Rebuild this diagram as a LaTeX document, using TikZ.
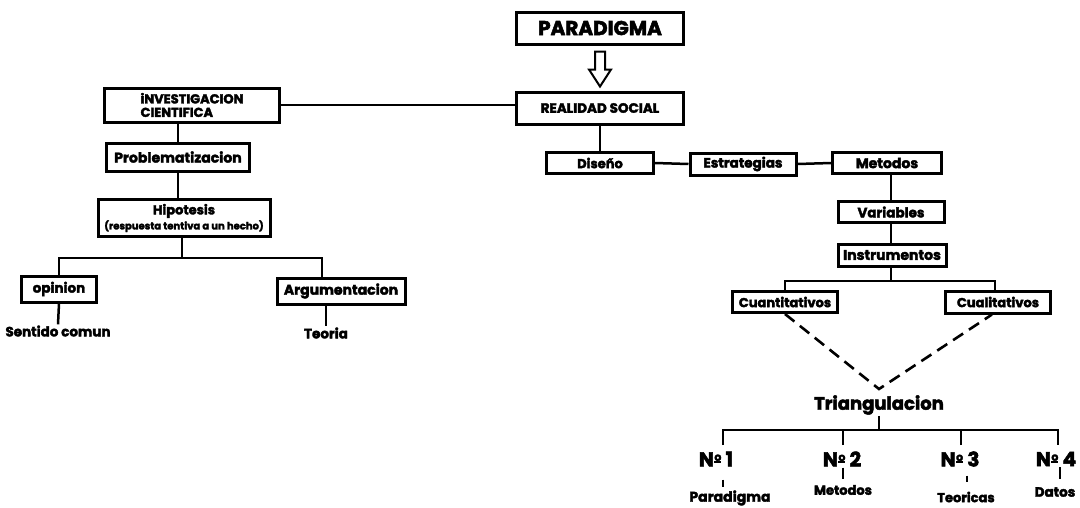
\documentclass[tikz,border=0pt]{standalone}
\usepackage{fontspec}
\setmainfont{Poppins}[BoldFeatures={FakeBold=2.6}]
\usetikzlibrary{calc}
\newcommand{\myfs}[1]{\fontsize{#1}{#1}\selectfont}
\newcommand{\numo}{\kern0.5pt\makebox[7pt][c]{\raisebox{5.5pt}{\myfs{11}o}}\kern-7pt\rule[3.2pt]{7pt}{1.8pt}}
\begin{document}
\begin{tikzpicture}[x=1pt,y=-1pt,
  box/.style={draw, line width=3pt, fill=white, inner sep=0pt, font=\bfseries\myfs{13.5}},
  conn/.style={line width=2.5pt},
  tick/.style={line width=2.2pt},
  lbl/.style={inner sep=1pt, font=\bfseries\myfs{13.5}},
  num/.style={inner sep=0pt, font=\bfseries\myfs{20}},
  dashline/.style={line width=2.6pt, dash pattern=on 12pt off 7pt}]
\useasboundingbox[fill=white] (0,0) rectangle (1080,507);

% top
\node[box, minimum width=167pt, minimum height=32pt, font=\bfseries\myfs{20}] (par) at (600,28) {PARADIGMA};
\node[box, minimum width=167pt, minimum height=32pt, font=\bfseries\myfs{13.5}] (rs) at (600,108) {REALIDAD SOCIAL};
\draw[line width=2pt, fill=white] ($(par.south)+(-5,6)$) -- ++(0,18) -- ++(-6,0) -- ($(rs.north)+(0,-4)$)
  -- ($(par.south)+(11,24)$) -- ++(-6,0) -- ++(0,-18) -- cycle;

% left branch
\node[box, minimum width=175pt, minimum height=34pt, align=left, font=\bfseries\myfs{13}] (inv) at (192,105)
  {iNVESTIGACION\\[0.5pt]CIENTIFICA};
\node[box, minimum width=143pt, minimum height=28pt, font=\bfseries\myfs{14}] (prob) at (178,157) {Problematizacion};
\node[box, minimum width=172pt, minimum height=37pt, align=center, font=\bfseries\myfs{13}] (hip) at (184,218)
  {Hipotesis\\[2pt]{\myfs{10}(respuesta tentiva a un hecho)}};
\node[box, minimum width=75pt, minimum height=26pt] (opi) at (59,289) {opinion};
\node[box, minimum width=128pt, minimum height=26pt, font=\bfseries\myfs{14}] (arg) at (341,291) {Argumentacion};
\node[lbl] (sc) at (58,331) {Sentido comun};
\node[lbl] (teo) at (326,333) {Teoria};

\draw[conn] (inv.east) -- (inv.east -| rs.west);
\draw[conn] (inv.south -| prob.north) -- (prob.north);
\draw[conn] (prob.south) -- (prob.south |- hip.north);
\coordinate (hj) at (182,258);
\draw[conn] (hip.south -| hj) -- (hj);
\draw[conn] (opi.north) |- (hj) -| (arg.north -| 322,0) -- (322,278);
\draw[conn] (opi.south) -- (sc.north);
\draw[conn] (arg.south -| teo.north) -- (teo.north);

% right branch
\node[box, minimum width=107pt, minimum height=21pt, font=\bfseries\myfs{13}] (dis) at (600,163) {Diseño};
\node[box, minimum width=106pt, minimum height=22pt] (est) at (743,164) {Estrategias};
\node[box, minimum width=109pt, minimum height=21pt, font=\bfseries\myfs{14}] (met) at (887,163) {Metodos};
\node[box, minimum width=106pt, minimum height=21pt] (var) at (891,212) {Variables};
\node[box, minimum width=108pt, minimum height=22pt, font=\bfseries\myfs{14}] (ins) at (892,255) {Instrumentos};
\node[box, minimum width=105pt, minimum height=21pt, font=\bfseries\myfs{13}] (cuan) at (785,302) {Cuantitativos};
\node[box, minimum width=105pt, minimum height=22pt, font=\bfseries\myfs{13}] (cual) at (998,302) {Cualitativos};

\draw[conn] (rs.south) -- (dis.north);
\draw[conn] (dis.east) -- (est.west);
\draw[conn] (est.east) -- (met.west);
\draw[conn] (var.north |- met.south) -- (var.north);
\draw[conn] (var.south) -- (var.south |- ins.north);
\coordinate (ih) at (891,281);
\draw[conn] (ins.south -| ih) -- (ih);
\draw[conn] (cuan.north) |- (ih) -| ([xshift=-3pt]cual.north);

% triangulacion
\node[inner sep=1pt, font=\bfseries\myfs{18}] (tri) at (879,405) {Triangulacion};
\coordinate (tv) at (879,389);
\draw[dashline] (cuan.south) -- (tv) -- ([xshift=-6pt]cual.south);

\node[num] (n1) at (716,459) {N\numo\ 1};
\node[num] (n2) at (842,459) {N\numo\ 2};
\node[num] (n3) at (960,459) {N\numo\ 3};
\node[num] (n4) at (1056,459) {N\numo\ 4};
\node[lbl, font=\bfseries\myfs{14}] (p1) at (730,498) {Paradigma};
\node[lbl, font=\bfseries\myfs{13}] (p2) at (843,490) {Metodos};
\node[lbl, font=\bfseries\myfs{13}] (p3) at (966,497) {Teoricas};
\node[lbl] (p4) at (1055,492) {Datos};

\coordinate (th) at (879,430);
\coordinate (t1) at (723,445);
\coordinate (t2) at (843,445);
\coordinate (t3) at (961,445);
\coordinate (t4) at (1058,445);
\draw[conn] (tri.south) -- (th);
\draw[conn] (t1) -- (t1 |- th) -- (t4 |- th) -- (t4);
\draw[conn] (t2) -- (t2 |- th);
\draw[conn] (t3) -- (t3 |- th);

\draw[tick] ($(n1.south)+(7,13)$) -- ++(0,7);
\draw[tick] ($(n2.south)+(1,1)$) -- ++(0,11);
\draw[tick] ($(n3.south)+(7,9)$) -- ++(0,6);
\draw[tick] ($(n4.south)+(4,1)$) -- ++(0,12);
\end{tikzpicture}
\end{document}
